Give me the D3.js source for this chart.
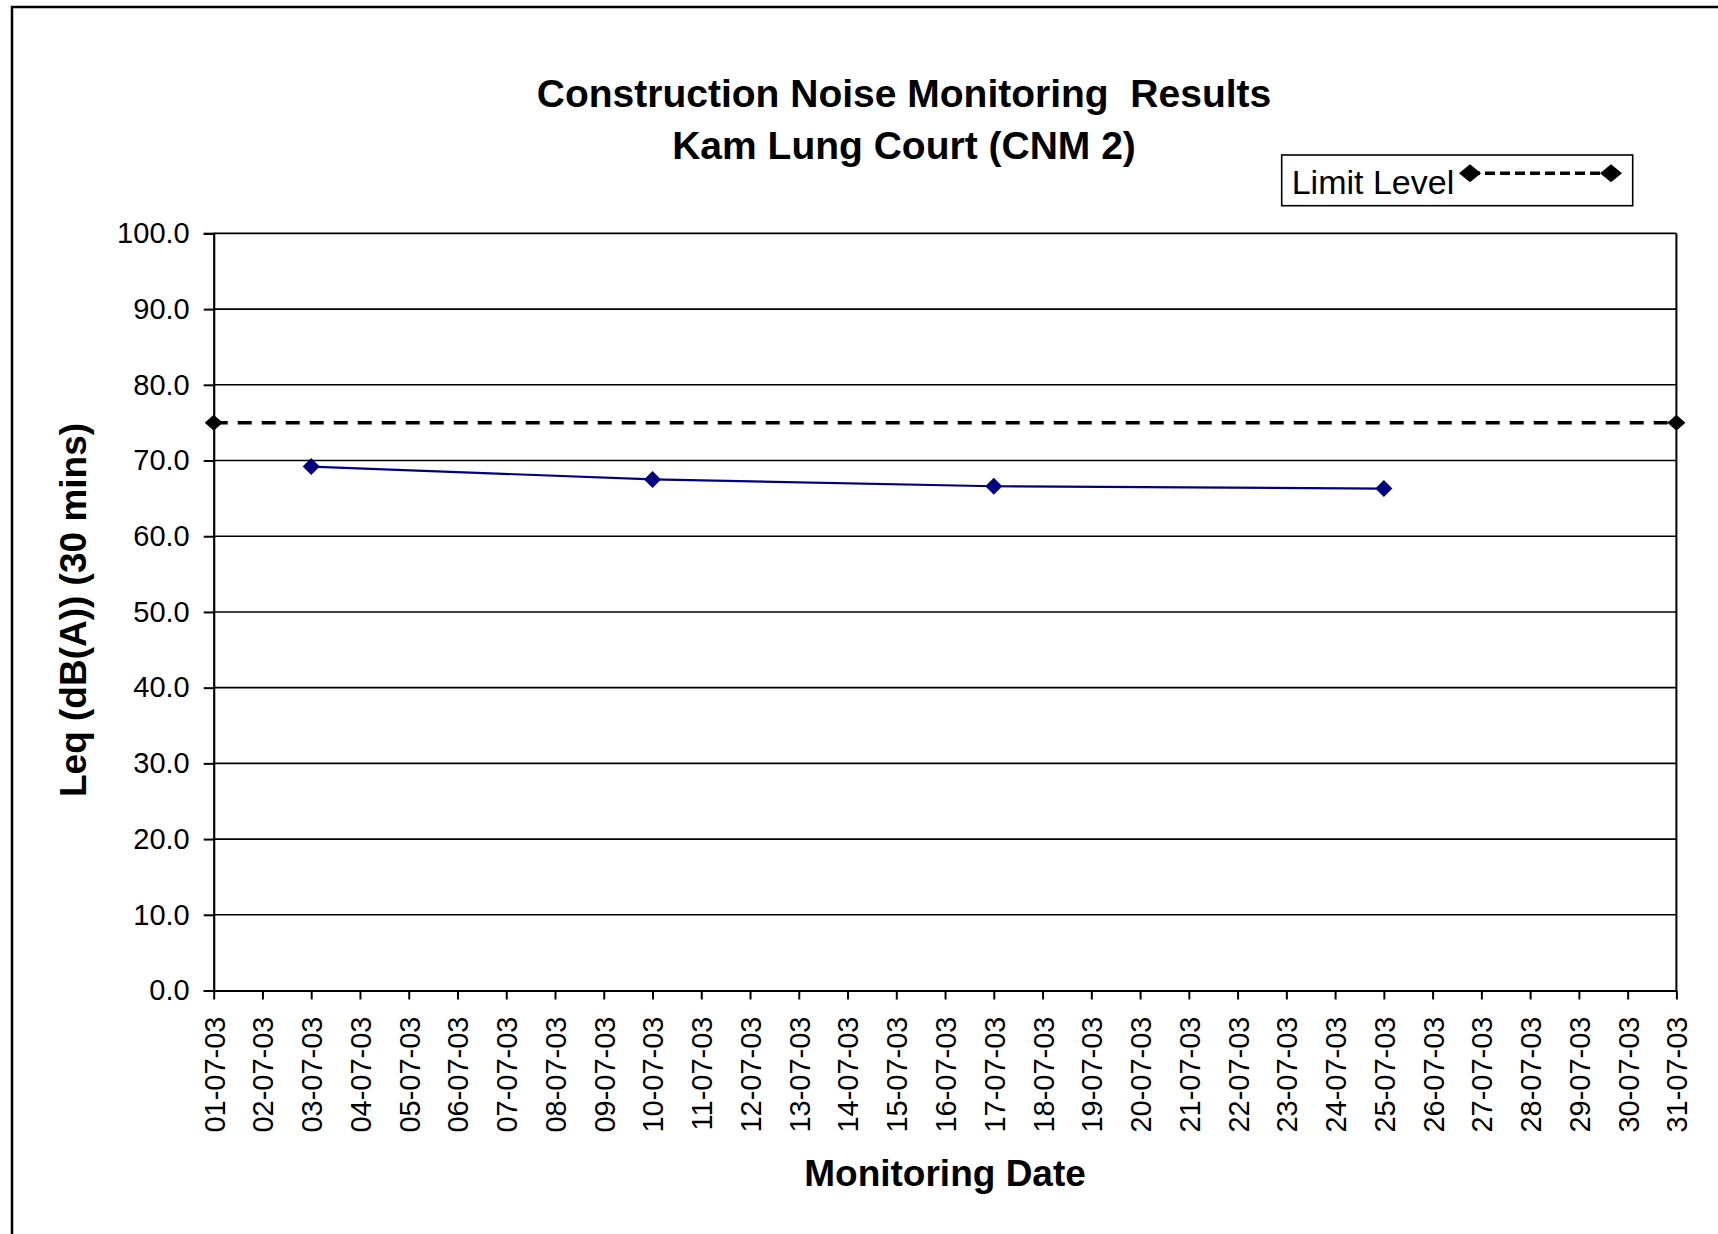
<!DOCTYPE html>
<html>
<head>
<meta charset="utf-8">
<script src="https://cdn.jsdelivr.net/npm/d3@7"></script>
<style>
  html, body { margin: 0; padding: 0; background: #fff; overflow: hidden; }
  svg { display: block; font-family: Arial, "Liberation Sans", sans-serif; }
  .pre { white-space: pre; }
</style>
</head>
<body>
<svg id="chart" width="1718" height="1234"></svg>
<script>
// ---- data ----
const titleLines = ["Construction Noise Monitoring  Results", "Kam Lung Court (CNM 2)"];
const xTitle = "Monitoring Date";
const yTitle = "Leq (dB(A)) (30 mins)";
const legendLabel = "Limit Level";
const dateStart = "01-07-03";
const dateEnd = "31-07-03";
const noiseDates = ["03-07-03", "10-07-03", "17-07-03", "25-07-03"];
const noiseValues = [69.2, 67.5, 66.6, 66.3];
const limitDates = ["01-07-03", "31-07-03"];
const limitValues = [75, 75];
const yTickValues = [0, 10, 20, 30, 40, 50, 60, 70, 80, 90, 100];

// ---- setup ----
const parse = d3.timeParse("%d-%m-%y");
const fmt = d3.timeFormat("%d-%m-%y");
const svg = d3.select("#chart");
const W = 1718, H = 1234;
const m = { left: 213.7, right: 1676.4, top: 233.4, bottom: 990.5 };

const x = d3.scaleTime().domain([parse(dateStart), parse(dateEnd)]).range([m.left, m.right]);
const y = d3.scaleLinear().domain([0, 100]).range([m.bottom, m.top]);

// outer border
svg.append("rect").attr("x", 12).attr("y", 7).attr("width", W + 20).attr("height", H + 20)
  .attr("fill", "#fff").attr("stroke", "#000").attr("stroke-width", 2.5);

// gridlines
svg.append("g").selectAll("line").data(yTickValues.filter(d => d > 0)).join("line")
  .attr("x1", m.left).attr("x2", m.right)
  .attr("y1", d => y(d)).attr("y2", d => y(d))
  .attr("stroke", "#000").attr("stroke-width", 1.6);

// right border of plot area
svg.append("line").attr("x1", m.right).attr("x2", m.right).attr("y1", m.top).attr("y2", m.bottom)
  .attr("stroke", "#000").attr("stroke-width", 2);

// y axis
const yAxis = svg.append("g").attr("transform", `translate(${m.left},0)`)
  .call(d3.axisLeft(y).tickValues(yTickValues).tickFormat(d3.format(".1f")).tickSize(10).tickPadding(14));
yAxis.select(".domain").attr("stroke", "#000").attr("stroke-width", 2.2);
yAxis.selectAll(".tick line").attr("stroke", "#000").attr("stroke-width", 2);
yAxis.selectAll(".tick text").attr("font-size", 29).attr("fill", "#000")
  .attr("font-family", "Arial, 'Liberation Sans', sans-serif");

// x axis
const xAxis = svg.append("g").attr("transform", `translate(0,${m.bottom})`)
  .call(d3.axisBottom(x).ticks(d3.timeDay.every(1)).tickFormat(fmt).tickSize(9).tickSizeOuter(0));
xAxis.select(".domain").attr("stroke", "#000").attr("stroke-width", 2.2);
xAxis.selectAll(".tick line").attr("stroke", "#000").attr("stroke-width", 2);
xAxis.selectAll(".tick text")
  .attr("font-size", 29).attr("fill", "#000")
  .attr("font-family", "Arial, 'Liberation Sans', sans-serif")
  .attr("text-anchor", "end")
  .attr("transform", "rotate(-90)")
  .attr("x", -26).attr("y", 0).attr("dy", "0.36em");

// limit line
const limitData = limitDates.map((d, i) => ({ date: parse(d), value: limitValues[i] }));
const line = d3.line().x(d => x(d.date)).y(d => y(d.value));
svg.append("path").datum(limitData).attr("d", line)
  .attr("fill", "none").attr("stroke", "#000").attr("stroke-width", 3.5)
  .attr("stroke-dasharray", "14,10");
const diamond = (cx, cy, w, h) => `M${cx},${cy - h / 2}L${cx + w / 2},${cy}L${cx},${cy + h / 2}L${cx - w / 2},${cy}Z`;
svg.append("g").selectAll("path").data(limitData).join("path")
  .attr("d", d => diamond(x(d.date), y(d.value), 18, 16)).attr("fill", "#000");

// noise series
const noiseData = noiseDates.map((d, i) => ({ date: parse(d), value: noiseValues[i] }));
svg.append("path").datum(noiseData).attr("d", line)
  .attr("fill", "none").attr("stroke", "#000080").attr("stroke-width", 2.2);
svg.append("g").selectAll("path").data(noiseData).join("path")
  .attr("d", d => diamond(x(d.date), y(d.value), 17, 17)).attr("fill", "#000080");

// title
svg.append("g").selectAll("text").data(titleLines).join("text")
  .attr("class", "pre")
  .attr("x", 904).attr("y", (d, i) => 107 + i * 52)
  .attr("text-anchor", "middle").attr("font-size", 39).attr("font-weight", "bold").attr("fill", "#000")
  .text(d => d);

// axis titles
svg.append("text").attr("x", (m.left + m.right) / 2).attr("y", 1186)
  .attr("text-anchor", "middle").attr("font-size", 37).attr("font-weight", "bold").text(xTitle);
svg.append("text").attr("transform", `translate(86,610) rotate(-90)`)
  .attr("text-anchor", "middle").attr("font-size", 37).attr("font-weight", "bold").text(yTitle);

// legend
const lg = svg.append("g");
lg.append("rect").attr("x", 1281.7).attr("y", 155).attr("width", 351).attr("height", 50.7)
  .attr("fill", "#fff").attr("stroke", "#000").attr("stroke-width", 1.6);
lg.append("text").attr("x", 1291.7).attr("y", 194).attr("font-size", 34).attr("fill", "#000").text(legendLabel);
lg.append("line").attr("x1", 1470).attr("x2", 1611).attr("y1", 173.3).attr("y2", 173.3)
  .attr("stroke", "#000").attr("stroke-width", 3.5).attr("stroke-dasharray", "10,5");
lg.selectAll("path").data([1470, 1611]).join("path")
  .attr("d", d => diamond(d, 173.3, 22, 18)).attr("fill", "#000");
</script>
</body>
</html>
